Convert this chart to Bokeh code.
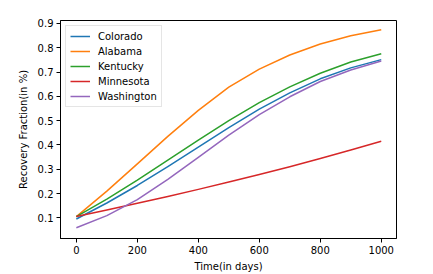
from bokeh.plotting import figure
from bokeh.models import Range1d, FixedTicker, Legend, LegendItem
from bokeh.embed import file_html
from bokeh.resources import INLINE

days = [0, 100, 200, 300, 400, 500, 600, 700, 800, 900, 1000]
colorado = [0.095, 0.161, 0.233, 0.311, 0.391, 0.471, 0.547, 0.614, 0.672, 0.717, 0.751]
alabama = [0.105, 0.21, 0.322, 0.435, 0.542, 0.638, 0.712, 0.77, 0.815, 0.849, 0.874]
kentucky = [0.105, 0.177, 0.255, 0.337, 0.42, 0.5, 0.574, 0.639, 0.695, 0.741, 0.775]
minnesota = [0.105, 0.132, 0.16, 0.188, 0.217, 0.247, 0.278, 0.31, 0.344, 0.379, 0.415]
washington = [0.059, 0.109, 0.175, 0.258, 0.349, 0.44, 0.525, 0.598, 0.661, 0.708, 0.745]

names = ["Colorado", "Alabama", "Kentucky", "Minnesota", "Washington"]
series = [colorado, alabama, kentucky, minnesota, washington]
colors = ["#1f77b4", "#ff7f0e", "#2ca02c", "#d62728", "#9467bd"]
x_ticks = [0, 200, 400, 600, 800, 1000]
y_ticks = [0.1, 0.2, 0.3, 0.4, 0.5, 0.6, 0.7, 0.8, 0.9]

FONT = "DejaVu Sans"

p = figure(frame_width=336, frame_height=218, output_backend="svg",
           toolbar_location=None,
           x_range=Range1d(-52, 1050), y_range=Range1d(0.0148, 0.912),
           min_border_left=60, min_border_top=20, min_border_right=20,
           min_border_bottom=28)
p.background_fill_color = "white"
p.border_fill_color = "white"
p.outline_line_color = "black"
p.outline_line_width = 1
p.xgrid.visible = False
p.ygrid.visible = False

items = []
for name, ys, c in zip(names, series, colors):
    r = p.line(days, ys, line_color=c, line_width=1.5, line_join="round")
    items.append(LegendItem(label=name, renderers=[r]))

for ax in (p.xaxis[0], p.yaxis[0]):
    ax.axis_line_color = "black"
    ax.major_tick_line_color = "black"
    ax.major_tick_out = 4
    ax.major_tick_in = 0
    ax.minor_tick_line_color = None
    ax.major_label_text_font = FONT
    ax.major_label_text_font_size = "10px"
    ax.major_label_text_color = "black"
    ax.axis_label_text_font = FONT
    ax.axis_label_text_font_size = "10px"
    ax.axis_label_text_font_style = "normal"
    ax.axis_label_text_color = "black"
    ax.major_label_standoff = 3

p.xaxis[0].ticker = FixedTicker(ticks=x_ticks)
p.yaxis[0].ticker = FixedTicker(ticks=y_ticks)
p.xaxis[0].axis_label = "Time(in days)"
p.yaxis[0].axis_label = "Recovery Fraction(in %)"
p.xaxis[0].axis_label_standoff = 4
p.yaxis[0].axis_label_standoff = 6

legend = Legend(items=items, location="top_left")
legend.margin = 5
legend.padding = 4
legend.spacing = 3
legend.label_height = 12
legend.glyph_height = 12
legend.glyph_width = 20
legend.label_standoff = 8
legend.label_text_font = FONT
legend.label_text_font_size = "10px"
legend.label_text_color = "black"
legend.border_line_color = "#cccccc"
legend.border_line_width = 1
legend.background_fill_alpha = 0.8
p.add_layout(legend, "center")

open("out.html", "w").write(file_html(p, INLINE))
